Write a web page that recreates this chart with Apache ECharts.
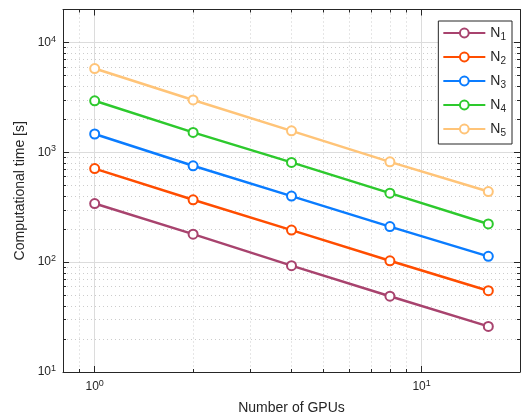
<!DOCTYPE html>
<html lang="en">
<head>
    <meta charset="UTF-8">
    <title>gpu scaling</title>
    <script src="https://cdn.jsdelivr.net/npm/echarts@6.0.0/dist/echarts.min.js"></script>
    <style>
        html, body { margin: 0; padding: 0; background: #fff; }
        #chart { width: 521px; height: 420px; }
    </style>
</head>
<body>
<div id="chart"></div>
<script>
    // data
    var gpus = [1, 2, 4, 8, 16];
    var n1 = [342, 180, 93, 49, 26];
    var n2 = [712, 370, 196, 103, 55];
    var n3 = [1470, 755, 400, 211, 113];
    var n4 = [2950, 1520, 810, 425, 223];
    var n5 = [5800, 3000, 1570, 820, 440];
    var names = ['N1', 'N2', 'N3', 'N4', 'N5'];
    var colors = ['#a8436e', '#ff4d00', '#0a7cff', '#2dc92d', '#ffc478'];

    var xMajor = [1, 10];
    var xMinor = [0.9, 2, 3, 4, 5, 6, 7, 8, 9];
    var yMajor = [10, 100, 1000, 10000];
    var yMinor = [20, 30, 40, 50, 60, 70, 80, 90, 200, 300, 400, 500, 600, 700, 800, 900,
        2000, 3000, 4000, 5000, 6000, 7000, 8000, 9000];

    var font = 'Liberation Sans, Arial, sans-serif';
    var ink = '#262626';

    function pow10(v) {
        return '{b|10}{s|' + Math.round(Math.log10(v)) + '}';
    }
    var powRich = {
        b: {fontSize: 12, lineHeight: 16, color: ink, fontFamily: font},
        s: {fontSize: 9, lineHeight: 9, verticalAlign: 'top', color: ink, fontFamily: font}
    };

    function pairs(vals) {
        var out = [];
        for (var i = 0; i < gpus.length; i++) out.push([gpus[i], vals[i]]);
        return out;
    }

    function majorAxis(pos, grid, min, max, ticks, withLabel) {
        return {
            type: 'log', logBase: 10, gridIndex: grid, position: pos, min: min, max: max,
            axisLine: {show: true, lineStyle: {color: ink, width: 1}},
            axisTick: {show: true, inside: true, length: 6, customValues: ticks, lineStyle: {color: ink}},
            axisLabel: {show: withLabel, customValues: ticks, formatter: pow10, rich: powRich, margin: 7},
            splitLine: {show: withLabel, lineStyle: {color: '#dcdcdc', width: 1}}
        };
    }
    function minorAxis(pos, grid, min, max, ticks, withGrid) {
        return {
            type: 'log', logBase: 10, gridIndex: grid, position: pos, min: min, max: max,
            axisLine: {show: false},
            axisTick: {show: true, inside: true, length: 3, customValues: ticks, lineStyle: {color: ink}},
            axisLabel: {show: false},
            splitLine: {show: withGrid, lineStyle: {color: '#cccccc', width: 1, type: [1, 3]}}
        };
    }

    var gridBox = {left: 63, top: 9.5, right: 1, bottom: 48, containLabel: false};

    var xBottom = majorAxis('bottom', 0, 0.8, 20, xMajor, true);
    xBottom.name = 'Number of GPUs';
    xBottom.nameLocation = 'middle';
    xBottom.nameGap = 29;
    xBottom.nameTextStyle = {fontSize: 14, color: ink, fontFamily: font};

    var yLeft = majorAxis('left', 0, 10, 20000, yMajor, true);
    yLeft.name = 'Computational time [s]';
    yLeft.nameLocation = 'middle';
    yLeft.nameGap = 33;
    yLeft.nameTextStyle = {fontSize: 14, color: ink, fontFamily: font};

    var allSeries = [];
    var allData = [n1, n2, n3, n4, n5];
    for (var i = 0; i < names.length; i++) {
        allSeries.push({
            name: names[i],
            type: 'line',
            xAxisIndex: 0,
            yAxisIndex: 0,
            data: pairs(allData[i]),
            symbol: 'emptyCircle',
            symbolSize: 9,
            color: colors[i],
            lineStyle: {width: 2.5, color: colors[i]},
            itemStyle: {color: colors[i], borderWidth: 2.2},
            animation: false
        });
    }

    var chart = echarts.init(document.getElementById('chart'));
    chart.setOption({
        animation: false,
        backgroundColor: '#fff',
        grid: [gridBox, gridBox],
        xAxis: [
            xBottom,
            majorAxis('top', 0, 0.8, 20, xMajor, false),
            minorAxis('bottom', 1, 0.8, 20, xMinor, true),
            minorAxis('top', 1, 0.8, 20, xMinor, false)
        ],
        yAxis: [
            yLeft,
            majorAxis('right', 0, 10, 20000, yMajor, false),
            minorAxis('left', 1, 10, 20000, yMinor, true),
            minorAxis('right', 1, 10, 20000, yMinor, false)
        ],
        legend: {
            orient: 'vertical',
            right: 9,
            top: 21,
            padding: [5, 6, 6, 4],
            itemWidth: 42,
            itemHeight: 11,
            itemGap: 8,
            itemTextGap: 4,
            borderColor: ink,
            borderWidth: 1,
            backgroundColor: '#fff',
            formatter: function (n) {
                return '{n|N}{d|' + n.slice(1) + '}';
            },
            textStyle: {
                rich: {
                    n: {fontSize: 14, lineHeight: 18, color: ink, fontFamily: font},
                    d: {fontSize: 10, lineHeight: 10, verticalAlign: 'bottom', color: ink, fontFamily: font}
                }
            },
            data: names
        },
        series: allSeries
    });
</script>
</body>
</html>
